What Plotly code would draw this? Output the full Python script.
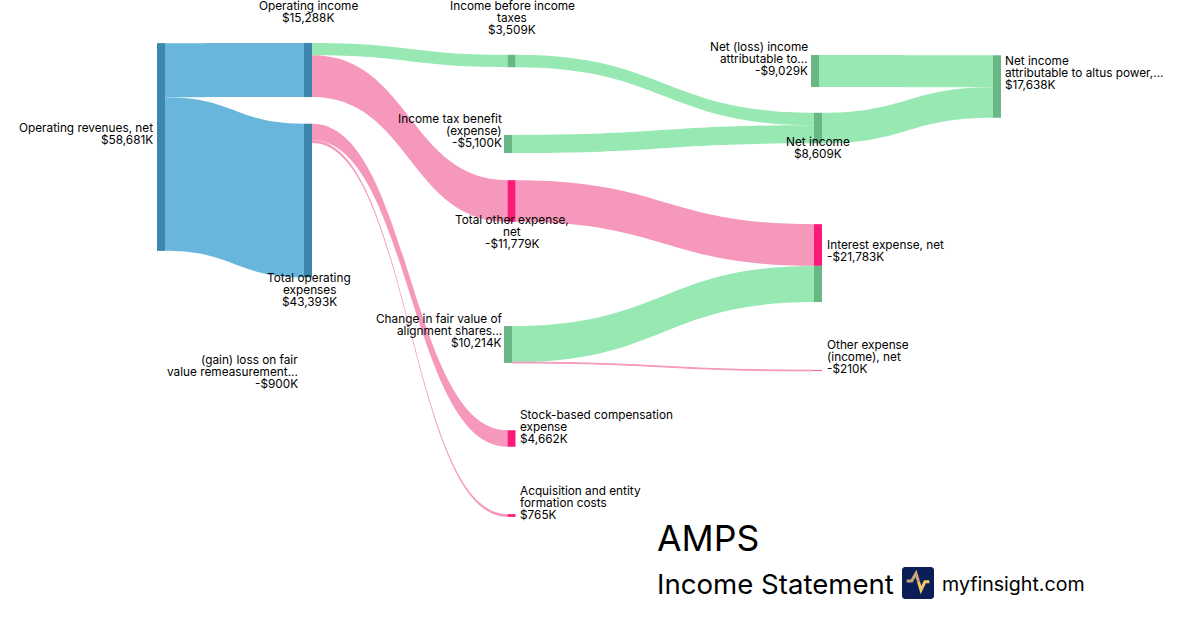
import plotly.graph_objects as go

# ---- data ($K) ----
node_names = ["Operating revenues, net", "Operating income", "Total operating expenses",
              "Income before income taxes", "Income tax benefit (expense)", "Total other expense, net",
              "Change in fair value of alignment shares", "Stock-based compensation expense",
              "Acquisition and entity formation costs", "Net income",
              "Net (loss) income attributable to", "Net income attributable to altus power",
              "Interest expense, net", "Interest expense, net (offset)", "Other expense (income), net"]
link_source = [0, 0, 1, 1, 2, 2, 3, 4, 5, 6, 6, 9, 10]
link_target = [1, 2, 3, 5, 7, 8, 9, 9, 12, 13, 14, 11, 11]
link_value = [15288, 43393, 3509, 11779, 4662, 765, 3509, 5100, 11779, 10214, 210, 8609, 9029]

# ---- layout of the nodes, in page pixels (centres) ----
node_px_x = [161, 308, 308, 511.5, 508, 511.5, 508, 511.5, 511.5, 818, 815, 997, 818, 818, 818]
node_px_y = [147, 70, 200.5, 61, 144, 201, 344.5, 438.5, 515.5, 128, 71, 86.5, 245, 284, 370.5]

BLUE_N, GREEN_N, PINK_N = "#3d86ad", "#69b784", "#fb1a78"
BLUE_L, GREEN_L, PINK_L = "#69b6dd", "#98e8b4", "#f598bb"
node_colors = [BLUE_N, BLUE_N, BLUE_N, GREEN_N, GREEN_N, PINK_N, GREEN_N, PINK_N, PINK_N,
               GREEN_N, GREEN_N, GREEN_N, PINK_N, GREEN_N, PINK_N]
link_colors = [BLUE_L, BLUE_L, GREEN_L, PINK_L, PINK_L, PINK_L, GREEN_L, GREEN_L, PINK_L,
               GREEN_L, PINK_L, GREEN_L, GREEN_L]

# ---- label texts with anchor, x, and y of the first line ----
labels = [
    (["Operating revenues, net", "$58,681K"], "right", 153, 127.7),
    (["Operating income", "$15,288K"], "center", 308, 5.7),
    (["Total operating", "expenses", "$43,393K"], "center", 309, 277.7),
    (["(gain) loss on fair", "value remeasurement...", "-$900K"], "right", 298, 359.7),
    (["Income before income", "taxes", "$3,509K"], "center", 512, 5.7),
    (["Income tax benefit", "(expense)", "-$5,100K"], "right", 502, 118.7),
    (["Total other expense,", "net", "-$11,779K"], "center", 512, 219.7),
    (["Change in fair value of", "alignment shares...", "$10,214K"], "right", 502, 318.7),
    (["Stock-based compensation", "expense", "$4,662K"], "left", 520, 414.7),
    (["Acquisition and entity", "formation costs", "$765K"], "left", 520, 490.7),
    (["Net (loss) income", "attributable to...", "-$9,029K"], "right", 808, 46.7),
    (["Net income", "$8,609K"], "center", 818, 141.7),
    (["Net income", "attributable to altus power,...", "$17,638K"], "left", 1005, 60.7),
    (["Interest expense, net", "-$21,783K"], "left", 827, 244.7),
    (["Other expense", "(income), net", "-$210K"], "left", 827, 344.7),
]

W, H = 1200, 630
FONT = "Inter, Noto Sans, sans-serif"
PX_PER_K = 0.00354
MAX_COLUMN = 83234
band = PX_PER_K * MAX_COLUMN

fig = go.Figure(go.Sankey(
    arrangement="fixed",
    domain=dict(x=[0, 1], y=[1 - band / H, 1]),
    node=dict(pad=0, thickness=8, label=[""] * len(node_names), customdata=node_names,
              x=[v / W for v in node_px_x], y=[v / band for v in node_px_y],
              color=node_colors, line=dict(width=0), hoverinfo="none"),
    link=dict(source=link_source, target=link_target, value=link_value, color=link_colors,
              hoverinfo="none"),
))

def px(x): return x / W
def py(y): return 1 - y / H

ann = []
def text(t, x, y, anchor, size=11.8):
    ann.append(dict(text=t, x=px(x), y=py(y), xref="paper", yref="paper", xanchor=anchor,
                    yanchor="middle", showarrow=False, borderpad=0, borderwidth=0,
                    font=dict(family=FONT, size=size, color="#000")))

for lines, anchor, x, y0 in labels:
    for i, line in enumerate(lines):
        text(line, x, y0 + 12 * i, anchor)

text("AMPS", 657, 538, "left", 35.6)
text("Income Statement", 657, 584, "left", 27.6)
text("myfinsight.com", 942, 584, "left", 19.6)

def path(pts):
    return "M " + " L ".join(f"{px(a):.5f} {py(b):.5f}" for a, b in pts)

def rrect(x0, y0, x1, y1, r):
    k = 0.45 * r
    return (f"M {px(x0 + r)} {py(y0)} L {px(x1 - r)} {py(y0)} "
            f"C {px(x1 - k)} {py(y0)} {px(x1)} {py(y0 + k)} {px(x1)} {py(y0 + r)} "
            f"L {px(x1)} {py(y1 - r)} C {px(x1)} {py(y1 - k)} {px(x1 - k)} {py(y1)} {px(x1 - r)} {py(y1)} "
            f"L {px(x0 + r)} {py(y1)} C {px(x0 + k)} {py(y1)} {px(x0)} {py(y1 - k)} {px(x0)} {py(y1 - r)} "
            f"L {px(x0)} {py(y0 + r)} C {px(x0)} {py(y0 + k)} {px(x0 + k)} {py(y0)} {px(x0 + r)} {py(y0)} Z")

shapes = [
    dict(type="path", xref="paper", yref="paper", path=rrect(902, 567, 934, 599, 3),
         fillcolor="#0b1f56", line=dict(width=0)),
    dict(type="path", xref="paper", yref="paper",
         path=path([(906.7, 581), (911.7, 581), (916, 573.3), (918.5, 581.6)]),
         line=dict(color="#c9a67a", width=3)),
    dict(type="path", xref="paper", yref="paper",
         path=path([(918.5, 581.6), (921, 590), (925, 581.7), (929.3, 581.7)]),
         line=dict(color="#f3c766", width=3)),
]

fig.update_layout(width=W, height=H, margin=dict(l=0, r=0, t=0, b=0),
                  paper_bgcolor="white", plot_bgcolor="white",
                  annotations=ann, shapes=shapes)
fig.write_html("out.html", config=dict(displayModeBar=False),
               post_script="document.body.style.margin='0';")
